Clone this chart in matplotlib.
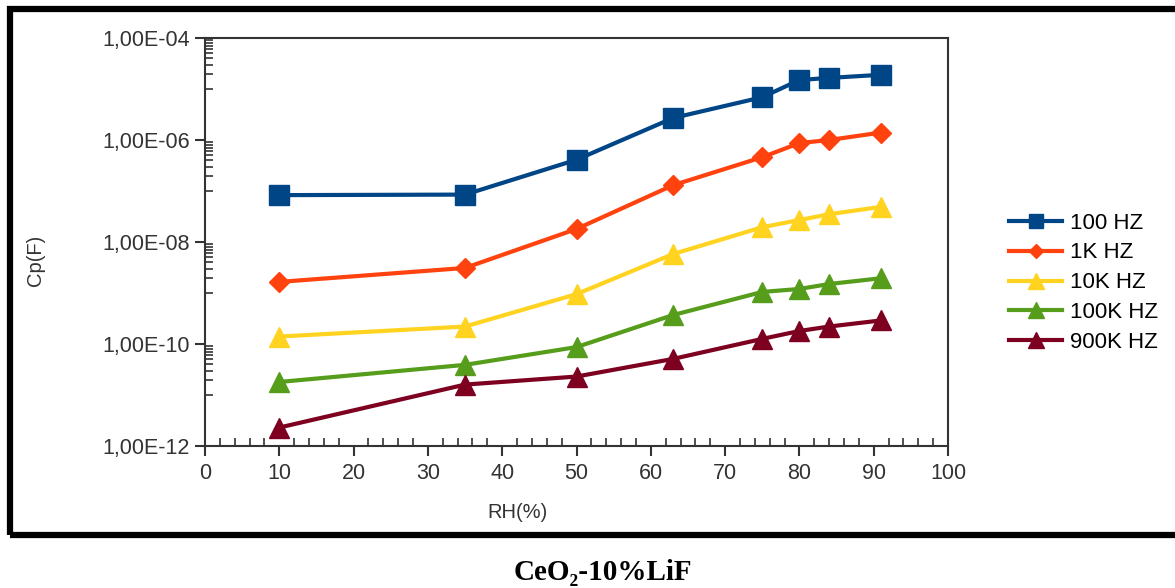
import numpy as np
import matplotlib
matplotlib.use("Agg")
import matplotlib.pyplot as plt
from matplotlib.patches import Rectangle
from matplotlib.ticker import FixedLocator, FuncFormatter

rh = [10, 35, 50, 63, 75, 80, 84, 91]

cp_100hz = [8.3e-8, 8.5e-8, 4.1e-7, 2.7e-6, 6.9e-6, 1.5e-5, 1.65e-5, 1.9e-5]
cp_1khz = [1.65e-9, 3.1e-9, 1.8e-8, 1.3e-7, 4.6e-7, 8.7e-7, 1.0e-6, 1.4e-6]
cp_10khz = [1.4e-10, 2.2e-10, 9.5e-10, 5.8e-9, 1.95e-8, 2.7e-8, 3.5e-8, 4.9e-8]
cp_100khz = [1.8e-11, 3.9e-11, 8.7e-11, 3.7e-10, 1.05e-9, 1.2e-9, 1.5e-9, 1.95e-9]
cp_900khz = [2.3e-12, 1.6e-11, 2.3e-11, 5.1e-11, 1.26e-10, 1.8e-10, 2.2e-10, 2.9e-10]

labels = ["100 HZ", "1K HZ", "10K HZ", "100K HZ", "900K HZ"]

plt.rcParams['font.family'] = ['Liberation Sans', 'DejaVu Sans']

fig = plt.figure(figsize=(11.75, 5.88), dpi=100)
ax = fig.add_axes([205 / 1175, 1 - 446 / 588, 743 / 1175, 408 / 588])

series = [
    (cp_100hz, "#004586", "s", 14),
    (cp_1khz, "#ff420e", "D", 10),
    (cp_10khz, "#ffd320", "^", 15),
    (cp_100khz, "#579d1c", "^", 15),
    (cp_900khz, "#7e0021", "^", 15),
]
for (vals, col, mk, ms), lab in zip(series, labels):
    ax.plot(rh, vals, color=col, marker=mk, markersize=ms, linewidth=3, label=lab)

ax.set_yscale("log")
ax.set_ylim(1e-12, 1e-4)
ax.set_xlim(0, 100)

ax.yaxis.set_major_locator(FixedLocator([1e-12, 1e-10, 1e-8, 1e-6, 1e-4]))
minor_y = [k * 10.0 ** n for n in (-11, -9, -7, -5) for k in range(1, 10)]
ax.yaxis.set_minor_locator(FixedLocator(minor_y))
ax.yaxis.set_minor_formatter(FuncFormatter(lambda v, p: ""))
ax.yaxis.set_major_formatter(FuncFormatter(
    lambda v, p: "1,00E-%02d" % int(round(-np.log10(v)))))

ax.set_xticks(np.arange(0, 101, 10))
ax.set_xticks(np.arange(0, 101, 2), minor=True)

ax.tick_params(axis="both", which="major", direction="out", length=7, width=1.5,
               labelsize=15.5, colors="#333333", labelcolor="#333333")
ax.tick_params(axis="both", which="minor", direction="in", length=6, width=1.2,
               colors="#333333")
ax.tick_params(axis="y", which="major", pad=4)
ax.tick_params(axis="x", which="major", pad=5)

for sp in ax.spines.values():
    sp.set_color("#333333")
    sp.set_linewidth(1.5)

ax.set_xlabel("RH(%)", fontsize=14.5, color="#333333")
ax.xaxis.set_label_coords(0.42, -0.14)
ax.set_ylabel("Cp(F)", fontsize=14.5, color="#333333")
ax.yaxis.set_label_coords(-0.215, 0.456)

ax.legend(loc="center left", bbox_to_anchor=(1.055, 0.40), frameon=False,
          fontsize=16, handlelength=2.4, handletextpad=0.35, labelspacing=0.4,
          markerscale=0.75)

# black frame around the chart
frame = Rectangle((10 / 1175, 1 - 535 / 588), 1.2, 526 / 588, transform=fig.transFigure,
                  fill=False, edgecolor="black", linewidth=4.5, clip_on=False)
fig.patches.append(frame)

fig.text(0.513, 1 - 573 / 588, "CeO₂-10%LiF", ha="center", va="center",
         fontsize=21, fontweight="bold", family=["Liberation Serif", "DejaVu Serif"])

fig.savefig("out.png", dpi=100)
